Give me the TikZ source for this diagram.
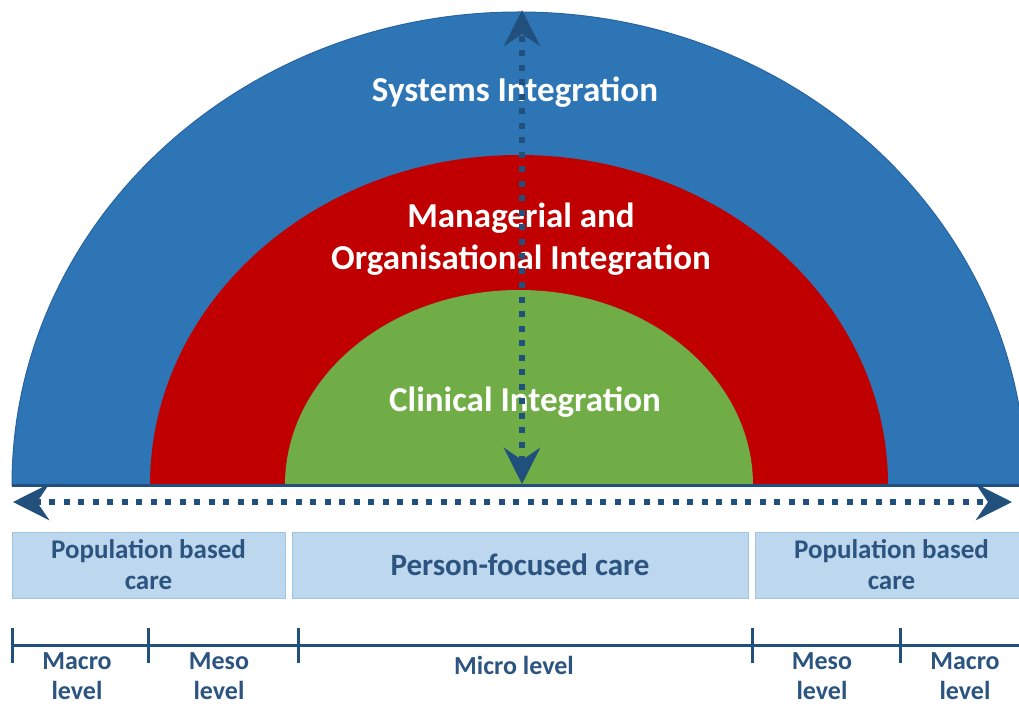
\documentclass[tikz,border=0pt]{standalone}
\usepackage{fontspec}
\setmainfont{Carlito}
\usetikzlibrary{arrows.meta,positioning}
\definecolor{sysblue}{RGB}{46,117,182}
\definecolor{sysedge}{RGB}{40,100,160}
\definecolor{mgred}{RGB}{192,0,0}
\definecolor{clingreen}{RGB}{112,173,71}
\definecolor{darkline}{RGB}{33,80,124}
\definecolor{boxfill}{RGB}{189,215,238}
\definecolor{boxedge}{RGB}{160,196,228}
\definecolor{boxtext}{RGB}{44,84,128}

\begin{document}
\begin{tikzpicture}[x=1pt,y=-1pt,every node/.style={inner sep=0pt},
  ring/.style={text=white,align=center,font=\fontsize{35}{42}\selectfont\bfseries},
  carebox/.style={fill=boxfill,draw=boxedge,line width=1pt,text=boxtext,align=center,
    minimum height=66pt,font=\fontsize{27}{31}\selectfont\bfseries},
  lvl/.style={text=boxtext,align=center,font=\fontsize{26}{30}\selectfont\bfseries},
  dots/.style={darkline,line width=6.5pt,dash pattern=on 6pt off 8.5pt,
    {Stealth[length=36pt,width=36pt,inset=12pt]}-{Stealth[length=36pt,width=36pt,inset=12pt]}}]

 \clip (0,0) rectangle (1019,708);

 \fill[sysblue,draw=sysedge,line width=1pt] (12,485) arc[start angle=180,end angle=360,x radius=507,y radius=473] -- cycle;
 \fill[mgred] (150,485) arc[start angle=180,end angle=360,x radius=369,y radius=330] -- cycle;
 \fill[clingreen] (285,485) arc[start angle=180,end angle=360,x radius=234,y radius=195] -- cycle;

 \coordinate (bw) at (12,485);
 \coordinate (be) at (1019,485);
 \draw[darkline,line width=3pt] (bw) -- (be);

 \node[ring] (sys) at (515,92) {Systems Integration};
 \node[ring] (mgr) at (521,239) {Managerial and\\Organisational Integration};
 \node[ring] (clin) at (525,402) {Clinical Integration};

 \coordinate (hw) at (13,502);
 \coordinate (he) at (1012,502);
 \coordinate (vbot) at (522,484);
 \coordinate (vtop) at (522,10);
 \draw[dots] (hw) -- (he);
 \draw[dots] (vbot) -- (vtop);

 \node[carebox,minimum width=273pt] (popL) at (148.5,565) {Population based\\care};
 \node[carebox,minimum width=456pt,font=\fontsize{31}{31}\selectfont\bfseries] (person) at (520,565) {Person-focused care};
 \node[carebox,minimum width=273pt] (popR) at (891.5,565) {Population based\\care};

 \coordinate (rw) at (12,645);
 \coordinate (re) at (1019,645);
 \draw[darkline,line width=3pt] (rw) -- (re);
 \foreach \t/\x in {t1/12,t2/148,t3/298,t4/752,t5/900}{
  \coordinate (\t) at (\x,645);
  \draw[darkline,line width=3pt] ([yshift=-18pt]\t) -- ([yshift=17pt]\t);
 }

 \node[lvl] (macroL) at (77,676) {Macro\\level};
 \node[lvl] (mesoL) at (219,676) {Meso\\level};
 \node[lvl] (micro) at (514,665) {Micro level};
 \node[lvl] (mesoR) at (822,676) {Meso\\level};
 \node[lvl] (macroR) at (965,676) {Macro\\level};
\end{tikzpicture}
\end{document}
